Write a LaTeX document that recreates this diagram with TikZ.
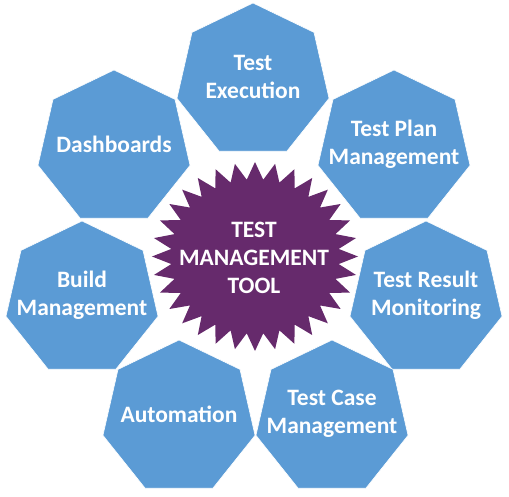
\documentclass[tikz,border=0pt]{standalone}
\usepackage{fontspec}
\setmainfont{Carlito}
\usetikzlibrary{shapes.geometric}
\definecolor{hepblue}{HTML}{5B9BD5}
\definecolor{starpurple}{HTML}{662A6C}
\tikzset{
  hept/.style={regular polygon, regular polygon sides=7, minimum size=156pt,
    inner sep=0pt, outer sep=0pt, fill=hepblue, draw=white, line width=0.6pt},
  heptext/.style={text=white, align=center, inner sep=0pt,
    font=\bfseries\fontsize{23.5}{28}\selectfont},
  bigstar/.style={star, star points=32, star point ratio=1.225, minimum size=189pt,
    inner sep=0pt, fill=starpurple, draw=none, xscale=1.09, transform shape},
}
\begin{document}
\begin{tikzpicture}[x=1pt,y=-1pt]
\useasboundingbox (0,0) rectangle (509,497);
\node[hept] (exec)   at (253,81)  {};
\node[hept] (dash)   at (114,148) {};
\node[hept] (plan)   at (394,148) {};
\node[hept] (build)  at (82,299)  {};
\node[hept] (result) at (426,299) {};
\node[hept] (auto)   at (179,418) {};
\node[hept] (case)   at (332,418) {};
\node[bigstar] (core) at (255,256.5) {};
\node[heptext] (execT)   at ([yshift=4pt]exec.center)   {Test\\Execution};
\node[heptext] (dashT)   at ([yshift=4pt]dash.center)   {Dashboards};
\node[heptext] (planT)   at ([yshift=4pt]plan.center)   {Test Plan\\Management};
\node[heptext] (buildT)  at ([yshift=4pt]build.center)  {Build\\Management};
\node[heptext] (resultT) at ([yshift=4pt]result.center) {Test Result\\Monitoring};
\node[heptext] (autoT)   at ([yshift=4pt]auto.center)   {Automation};
\node[heptext] (caseT)   at ([yshift=4pt]case.center)   {Test Case\\Management};
\node[heptext] (coreT)   at (254,258) {TEST\\MANAGEMENT\\TOOL};
\end{tikzpicture}
\end{document}
